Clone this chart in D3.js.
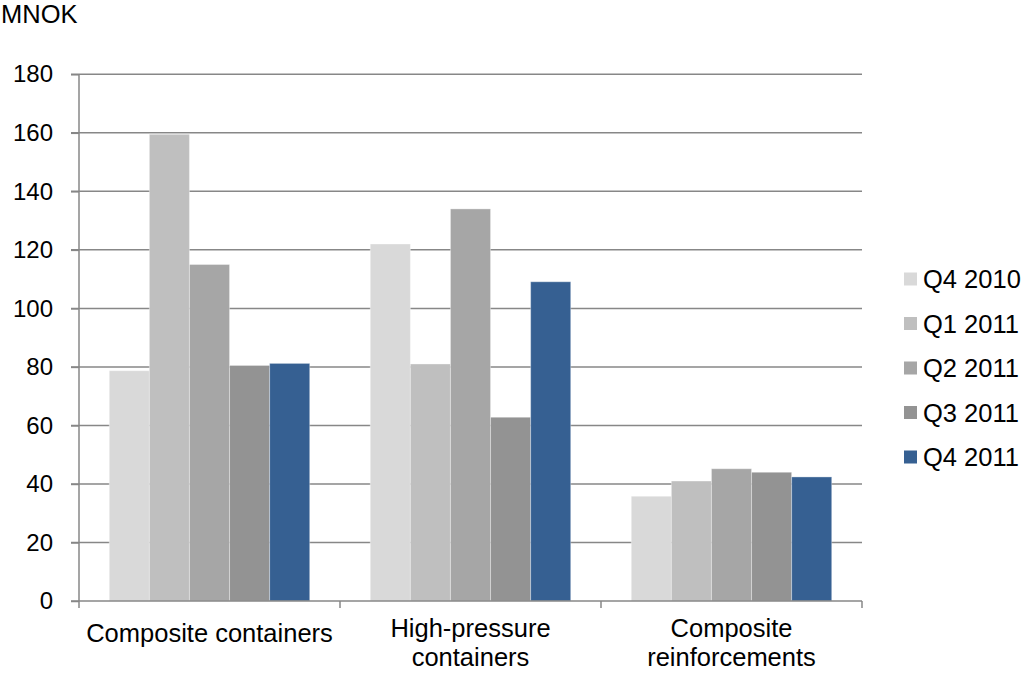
<!DOCTYPE html>
<html>
<head>
<meta charset="utf-8">
<script src="https://cdn.jsdelivr.net/npm/d3@7"></script>
<style>
  html, body { margin: 0; padding: 0; background: #fff; }
  svg { display: block; font-family: "Liberation Sans", Arial, sans-serif; }
</style>
</head>
<body>
<svg id="chart" width="1023" height="676"></svg>
<script>
// Revenue per business area, MNOK
const categories = [
  ["Composite containers"],
  ["High-pressure", "containers"],
  ["Composite", "reinforcements"]
];
const seriesNames = ["Q4 2010", "Q1 2011", "Q2 2011", "Q3 2011", "Q4 2011"];
const seriesColors = ["#D9D9D9", "#BFBFBF", "#A6A6A6", "#939393", "#366092"];
const q4_2010 = [78.7, 122.0, 35.8];
const q1_2011 = [159.5, 81.0, 41.0];
const q2_2011 = [115.0, 134.0, 45.2];
const q3_2011 = [80.5, 62.8, 44.0];
const q4_2011 = [81.2, 109.1, 42.4];
const seriesValues = [q4_2010, q1_2011, q2_2011, q3_2011, q4_2011];
const yTicks = [0, 20, 40, 60, 80, 100, 120, 140, 160, 180];

(function () {
  const svg = d3.select("#chart");
  const plotL = 79, plotR = 862, plotT = 74.3, plotB = 601;
  const tickFont = 24, labelFont = 25.5;

  const catKeys = categories.map((c, i) => i);
  const x0 = d3.scaleBand().domain(catKeys).range([plotL, plotR]);
  const innerW = x0.bandwidth();
  // five bars fill ~77% of each category slot
  const groupW = innerW * 0.768;
  const x1 = d3.scaleBand().domain(seriesNames)
    .range([(innerW - groupW) / 2, (innerW + groupW) / 2]);
  const y = d3.scaleLinear().domain([0, 180]).range([plotB, plotT]);

  // Gridlines
  svg.append("g")
    .selectAll("line")
    .data(yTicks.filter(t => t > 0))
    .join("line")
    .attr("x1", plotL - 8).attr("x2", plotR)
    .attr("y1", d => y(d)).attr("y2", d => y(d))
    .attr("stroke", "#878787").attr("stroke-width", 1.5);

  // Bars
  const groups = svg.append("g")
    .selectAll("g")
    .data(catKeys)
    .join("g")
    .attr("transform", d => `translate(${x0(d)},0)`);

  groups.selectAll("rect")
    .data(ci => seriesValues.map((vals, si) => ({ name: seriesNames[si], si, v: vals[ci] })))
    .join("rect")
    .attr("x", d => x1(d.name))
    .attr("width", x1.bandwidth())
    .attr("y", d => y(d.v))
    .attr("height", d => y(0) - y(d.v))
    .attr("fill", d => seriesColors[d.si])
    .attr("stroke", "rgba(255,255,255,0.35)")
    .attr("stroke-width", 1);

  // Y axis
  const yAxis = d3.axisLeft(y).tickValues(yTicks).tickSize(8).tickPadding(18);
  const yg = svg.append("g").attr("transform", `translate(${plotL},0)`).call(yAxis);
  yg.select(".domain").attr("stroke", "#878787").attr("stroke-width", 1.5)
    .attr("d", `M0,${plotT}V${plotB}`);
  yg.selectAll(".tick line").attr("stroke", "#878787").attr("stroke-width", 1.5);
  yg.selectAll(".tick text")
    .attr("font-size", tickFont).attr("fill", "#000")
    .attr("font-family", "Liberation Sans, Arial, sans-serif");

  // X axis
  const xg = svg.append("g").attr("transform", `translate(0,${plotB})`);
  xg.append("line")
    .attr("x1", plotL - 8).attr("x2", plotR)
    .attr("stroke", "#878787").attr("stroke-width", 1.5);
  xg.selectAll("line.tk")
    .data(d3.range(categories.length + 1))
    .join("line")
    .attr("class", "tk")
    .attr("x1", i => plotL + i * innerW).attr("x2", i => plotL + i * innerW)
    .attr("y1", 0).attr("y2", 7)
    .attr("stroke", "#878787").attr("stroke-width", 1.5);

  const labels = xg.selectAll("text")
    .data(categories)
    .join("text")
    .attr("x", (d, i) => x0(i) + innerW / 2)
    .attr("text-anchor", "middle")
    .attr("font-size", labelFont)
    .attr("fill", "#000");
  labels.selectAll("tspan")
    .data(d => d.map(t => ({ t, n: d.length })))
    .join("tspan")
    .attr("x", function () { return this.parentNode.getAttribute("x"); })
    .attr("y", (d, i) => (d.n > 1 ? 36 : 41) + i * 28.5)
    .text(d => d.t);

  // Unit label
  svg.append("text")
    .attr("x", 1).attr("y", 23)
    .attr("font-size", labelFont).attr("fill", "#000")
    .text("MNOK");

  // Legend
  const legend = svg.append("g").attr("transform", "translate(904,279)");
  const items = legend.selectAll("g")
    .data(seriesNames)
    .join("g")
    .attr("transform", (d, i) => `translate(0,${i * 44.5})`);
  items.append("rect")
    .attr("y", -6.5)
    .attr("width", 13).attr("height", 13)
    .attr("fill", (d, i) => seriesColors[i]);
  items.append("text")
    .attr("x", 19).attr("y", 9)
    .attr("font-size", labelFont).attr("fill", "#000")
    .text(d => d);
})();
</script>
</body>
</html>
